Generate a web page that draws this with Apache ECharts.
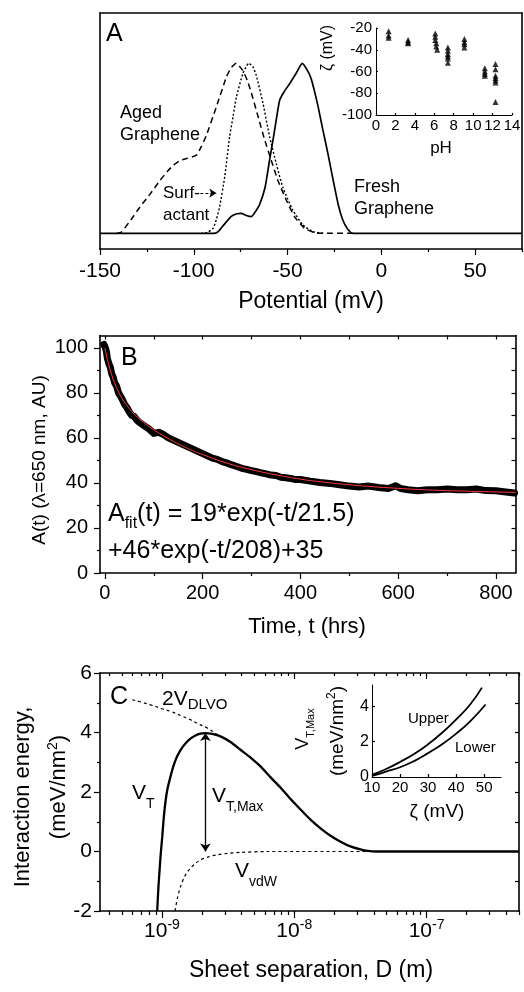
<!DOCTYPE html>
<html><head><meta charset="utf-8">
<script src="https://cdn.jsdelivr.net/npm/echarts@6/dist/echarts.min.js"></script>
<style>html,body{margin:0;padding:0;background:#fff}#c{width:524px;height:992px}</style>
</head><body><div id="c"></div>
<script>
const FONT = '"Liberation Sans", Arial, Helvetica, sans-serif';

// ---------- Panel A : zeta potential distributions ----------
const freshGraphene = [[-150,0],[-89,0],[-87,0.01],[-84,0.05],[-80,0.10],[-77,0.115],[-74.7,0.117],[-72,0.105],[-69.4,0.098],[-67,0.13],[-64.9,0.17],[-62,0.27],[-59.6,0.43],[-57,0.6],[-54.3,0.78],[-52,0.83],[-48.9,0.88],[-45.5,0.94],[-42.2,1.0],[-39.5,0.96],[-37.4,0.91],[-34,0.76],[-31.2,0.61],[-28.5,0.47],[-26,0.33],[-23,0.17],[-20.6,0.08],[-18,0.025],[-15.5,0],[75,0]];
const surfactant = [[-96,0],[-93,0.005],[-89.7,0.03],[-88,0.08],[-86.2,0.157],[-83.5,0.333],[-80.9,0.568],[-79,0.69],[-77.3,0.80],[-73.8,0.94],[-70.6,1.0],[-68.5,0.98],[-66.7,0.93],[-63.1,0.765],[-59.6,0.57],[-56,0.41],[-52.5,0.27],[-47.2,0.137],[-41.8,0.05],[-36.5,0.01],[-30,0]];
const agedGraphene = [[-141,0],[-138.5,0.008],[-133.5,0.08],[-128.7,0.155],[-123,0.235],[-118.1,0.31],[-114,0.365],[-111,0.40],[-107,0.43],[-103.9,0.44],[-98.6,0.46],[-96,0.51],[-93.3,0.576],[-88,0.743],[-82.6,0.92],[-80,0.975],[-77.3,1.0],[-74,0.96],[-71.5,0.9],[-69.4,0.83],[-65.8,0.69],[-62.2,0.55],[-58.7,0.43],[-55.1,0.31],[-50.7,0.196],[-46.3,0.098],[-41,0.03],[-36,0.005],[-33,0],[-15,0]];
const surfArrow = [[-96.5,0.237],[-88,0.237]];
const potentialTicks = [-150,-100,-50,0,50];
const potentialMinor = [-125,-75,-25,25,75];

// inset A : zeta vs pH
const zetaVsPH = [[1.3,-23],[1.3,-27],[1.3,-29],[3.3,-31],[3.3,-33],[3.3,-34],[6.1,-25],[6.1,-28],[6.1,-31],[6.2,-34],[6.2,-37],[6.3,-40],[7.4,-38],[7.4,-41],[7.4,-44],[7.4,-46],[7.4,-48],[7.4,-52],[9.1,-30],[9.1,-33],[9.1,-35],[9.1,-38],[11.2,-57],[11.2,-60],[11.2,-62],[11.2,-64],[12.3,-53],[12.3,-58],[12.3,-64],[12.3,-66],[12.3,-68],[12.3,-70],[12.3,-88]];
const phTicks = [0,2,4,6,8,10,12,14];
const zetaTicks = [-100,-80,-60,-40,-20];

// ---------- Panel B : absorbance decay ----------
const absorbance = [[-2,101.5],[1,100],[3,98.5],[5,95.5],[8,93],[11,91.5],[14,88.5],[17,87],[20,84.5],[24,83],[28,80],[32,78.5],[36,77],[40,75],[45,73.5],[50,71.5],[55,70],[60,69.5],[65,68],[70,67],[80,65.5],[90,64],[100,62],[110,62.5],[120,61.5],[130,60],[140,59],[150,58],[160,57],[170,56],[180,55],[190,54],[200,53],[210,52],[220,51],[230,50.5],[240,49.5],[250,48.8],[260,48],[270,47.3],[280,46.5],[290,46],[300,45.5],[310,45],[320,44.5],[330,44],[340,43.5],[350,43.3],[360,42.5],[370,42.3],[380,42],[390,41.5],[400,41.5],[420,40.8],[440,40.2],[460,39.8],[480,39.2],[500,38.6],[520,38.2],[540,38.6],[560,38],[580,37.5],[595,38.8],[605,37.5],[620,37],[640,36.5],[660,37],[680,37],[700,37.3],[720,37],[740,37],[760,37.3],[780,36.6],[800,36.5],[820,36],[838,35.5]];
const absorbanceFit = [[0,100],[5,95],[10,90.8],[15,87.3],[20,84.3],[30,79.5],[40,75.9],[50,73],[60,70.6],[80,66.8],[100,63.6],[125,60.3],[150,57.4],[175,54.8],[200,52.6],[250,48.8],[300,45.9],[350,43.6],[400,41.7],[450,40.3],[500,39.2],[550,38.3],[600,37.6],[650,37],[700,36.6],[750,36.3],[800,36],[840,35.8]];
const timeTicks = [0,200,400,600,800];
const timeMinor = [100,300,500,700];
const timeTop = [0,100,200,300,400,500,600,700,800];
const absTicks = [0,20,40,60,80,100];
const absMinor = [10,30,50,70,90];
const absRight = [10,20,30,40,50,60,70,80,90,100];

// ---------- Panel C : interaction energy ----------
const vTotal = [[9.2e-10,-2],[9.4e-10,-1.2],[9.6e-10,-0.6],[9.8e-10,-0.05],[1.005e-9,0.5],[1.03e-9,1.1],[1.06e-9,1.63],[1.1e-9,2.1],[1.16e-9,2.52],[1.22e-9,2.87],[1.30e-9,3.19],[1.4e-9,3.45],[1.51e-9,3.64],[1.65e-9,3.8],[1.79e-9,3.9],[1.95e-9,3.96],[2.13e-9,3.98],[2.4e-9,3.95],[2.77e-9,3.87],[3.3e-9,3.68],[3.92e-9,3.42],[4.7e-9,3.15],[5.56e-9,2.86],[6.6e-9,2.5],[7.87e-9,2.15],[9.3e-9,1.78],[1.11e-8,1.42],[1.32e-8,1.08],[1.58e-8,0.78],[1.88e-8,0.53],[2.24e-8,0.33],[2.66e-8,0.17],[3.16e-8,0.07],[3.6e-8,0.02],[4.2e-8,0],[5e-7,0]];
const vDLVO2 = [[5.96e-10,5.1],[7e-10,5.02],[8.2e-10,4.93],[1.0e-9,4.8],[1.16e-9,4.71],[1.4e-9,4.56],[1.64e-9,4.43],[1.9e-9,4.28],[2.2e-9,4.15],[2.69e-9,3.9],[3.3e-9,3.68]];
const vVdW = [[1.253e-9,-2],[1.265e-9,-1.9],[1.32e-9,-1.5],[1.38e-9,-1.18],[1.48e-9,-0.85],[1.6e-9,-0.62],[1.77e-9,-0.42],[1.95e-9,-0.28],[2.25e-9,-0.18],[2.61e-9,-0.11],[3.2e-9,-0.06],[3.92e-9,-0.03],[6.24e-9,0],[4.2e-8,0]];
const vMaxArrow = [[2.13e-9,3.98],[2.13e-9,0]];
const sepTicks = [1e-9,1e-8,1e-7];
const sepMinor = [4e-10,5e-10,6e-10,7e-10,8e-10,9e-10,2e-9,3e-9,4e-9,5e-9,6e-9,7e-9,8e-9,9e-9,2e-8,3e-8,4e-8,5e-8,6e-8,7e-8,8e-8,9e-8,2e-7,3e-7,4e-7,5e-7];
const energyTicks = [-2,0,2,4,6];
const energyMinor = [-1,1,3,5];
const energyRight = [-1,0,1,2,3,4,5];

// inset C : V_T,Max vs zeta
const upperCurve = [[10,0.12],[12,0.25],[15,0.45],[20,0.85],[25,1.3],[30,1.85],[35,2.5],[40,3.25],[45,4.1],[49.2,5.05]];
const lowerCurve = [[10,0.08],[12,0.15],[15,0.3],[20,0.55],[25,0.9],[30,1.35],[35,1.85],[40,2.45],[45,3.15],[50.5,4.1]];
const zetaXTicks = [10,20,30,40,50];
const vmaxTicks = [0,2,4];

function mkAxis(o) {
  return {
    type: o.type || 'value', gridIndex: o.grid, position: o.pos, min: o.min, max: o.max,
    logBase: 10,
    axisLine: {show: !!o.line, onZero: false, lineStyle: {color: '#000', width: o.lineW || 1.6}},
    axisTick: {show: !!o.ticks, customValues: o.ticks || undefined, length: o.tickLen || 5, inside: !!o.inside, lineStyle: {color: '#000', width: 1.2}},
    axisLabel: Object.assign({show: !!o.labels, customValues: o.labels || undefined, color: '#000', fontFamily: FONT}, o.label || {}),
    splitLine: {show: false}, minorTick: {show: false}, minorSplitLine: {show: false},
    axisPointer: {show: false}, silent: true
  };
}

const xAxis = [
  mkAxis({grid:0,pos:'bottom',min:-150,max:75,line:true,ticks:potentialTicks,tickLen:6,labels:potentialTicks,label:{fontSize:21,margin:12}}),
  mkAxis({grid:0,pos:'bottom',min:-150,max:75,ticks:potentialMinor,tickLen:3}),
  mkAxis({grid:0,pos:'top',min:-150,max:75,line:true}),
  mkAxis({grid:1,pos:'bottom',min:0,max:14,line:true,lineW:1,ticks:phTicks,tickLen:2,inside:true,labels:phTicks,label:{fontSize:15,margin:3}}),
  mkAxis({grid:2,pos:'bottom',min:-10,max:840,line:true,ticks:timeTicks,tickLen:6,labels:timeTicks,label:{fontSize:20,margin:10}}),
  mkAxis({grid:2,pos:'bottom',min:-10,max:840,ticks:timeMinor,tickLen:3}),
  mkAxis({grid:2,pos:'top',min:-10,max:840,line:true,ticks:timeTop,tickLen:4,inside:true}),
  mkAxis({grid:3,pos:'bottom',type:'log',min:3.4e-10,max:5e-7,line:true,ticks:sepTicks,tickLen:7,labels:sepTicks,
    label:{margin:7, formatter: v => '{b|10}{s|' + Math.round(Math.log10(v)) + '}',
      rich:{b:{fontSize:21,fontFamily:FONT,color:'#000',lineHeight:26},s:{fontSize:14,fontFamily:FONT,color:'#000',lineHeight:14,verticalAlign:'top'}}}}),
  mkAxis({grid:3,pos:'bottom',type:'log',min:3.4e-10,max:5e-7,ticks:sepMinor,tickLen:4}),
  mkAxis({grid:3,pos:'top',type:'log',min:3.4e-10,max:5e-7,line:true,ticks:sepMinor,tickLen:3,inside:true}),
  mkAxis({grid:3,pos:'top',type:'log',min:3.4e-10,max:5e-7,ticks:sepTicks,tickLen:6,inside:true}),
  mkAxis({grid:4,pos:'bottom',min:10,max:56,line:true,lineW:1,ticks:zetaXTicks,tickLen:3,inside:true,labels:zetaXTicks,label:{fontSize:15,margin:3}})
];

const yAxis = [
  mkAxis({grid:0,pos:'left',min:-0.092,max:1.296,line:true}),
  mkAxis({grid:0,pos:'right',min:-0.092,max:1.296,line:true}),
  mkAxis({grid:1,pos:'left',min:-100,max:-20,line:true,lineW:1,ticks:zetaTicks,tickLen:2,inside:true,labels:zetaTicks,label:{fontSize:15,margin:4}}),
  mkAxis({grid:2,pos:'left',min:0,max:105.5,line:true,ticks:absTicks,tickLen:6,labels:absTicks,label:{fontSize:20,margin:12}}),
  mkAxis({grid:2,pos:'left',min:0,max:105.5,ticks:absMinor,tickLen:3}),
  mkAxis({grid:2,pos:'right',min:0,max:105.5,line:true,ticks:absRight,tickLen:4,inside:true}),
  mkAxis({grid:3,pos:'left',min:-2,max:6,line:true,ticks:energyTicks,tickLen:6,labels:energyTicks,label:{fontSize:21,margin:8}}),
  mkAxis({grid:3,pos:'left',min:-2,max:6,ticks:energyMinor,tickLen:3}),
  mkAxis({grid:3,pos:'right',min:-2,max:6,line:true,ticks:energyRight,tickLen:4,inside:true}),
  mkAxis({grid:4,pos:'left',min:0,max:5.2,line:true,lineW:1,ticks:vmaxTicks,tickLen:3,inside:true,labels:vmaxTicks,label:{fontSize:16,margin:3}})
];

function line(data, xi, yi, style, extra) {
  return Object.assign({type:'line', xAxisIndex:xi, yAxisIndex:yi, data, symbol:'none', silent:true,
    lineStyle: Object.assign({color:'#000', width:1.5}, style), emphasis:{disabled:true}}, extra || {});
}

const series = [
  line(freshGraphene, 0, 0, {width:1.7}, {smooth:0.15, z:3}),
  line(surfactant, 0, 0, {width:1.4, type:[2,2]}, {smooth:0.2, z:2,
    markLine:{silent:true, symbol:['none','arrow'], symbolSize:7, label:{show:false}, emphasis:{disabled:true},
      lineStyle:{color:'#000', width:1.2, type:[3,2]},
      data:[[{coord:surfArrow[0]},{coord:surfArrow[1]}]]}}),
  line(agedGraphene, 0, 0, {width:1.5, type:[6,4]}, {smooth:0.15, z:2}),
  {type:'scatter', xAxisIndex:3, yAxisIndex:2, data:zetaVsPH, symbol:'triangle', symbolSize:6, itemStyle:{color:'#000'}, silent:true},
  line(absorbance, 4, 3, {width:7, cap:'round', join:'round'}, {z:2}),
  line(absorbanceFit, 4, 3, {width:1, color:'#ff3b3b'}, {smooth:true, z:3}),
  line(vDLVO2, 7, 6, {width:1.2, type:[3,3]}, {smooth:true, z:2}),
  line(vVdW, 7, 6, {width:1.2, type:[3,3]}, {smooth:0.3, z:2}),
  line(vTotal, 7, 6, {width:2.3}, {smooth:0.25, z:3,
    markLine:{silent:true, symbol:['arrow','arrow'], symbolSize:8, label:{show:false}, emphasis:{disabled:true},
      lineStyle:{color:'#000', width:1.3, type:'solid'},
      data:[[{coord:vMaxArrow[0]},{coord:vMaxArrow[1]}]]}}),
  line(upperCurve, 11, 9, {width:1.8}, {smooth:true}),
  line(lowerCurve, 11, 9, {width:1.8}, {smooth:true})
];

function T(x, y, text, size, o) {
  o = o || {};
  return {type:'text', x, y, rotation:o.rot || 0, z:100, silent:true,
    style:{text, fontSize:size, fontFamily:FONT, fill:'#000', align:o.align || 'left', verticalAlign:'middle', rich:o.rich}};
}
const R = Math.PI / 2;
const sub = (mSize, sSize, mLH) => ({m:{fontSize:mSize,fontFamily:FONT,fill:'#000',lineHeight:mLH}, s:{fontSize:sSize,fontFamily:FONT,fill:'#000',lineHeight:sSize,verticalAlign:'bottom'}});
const sup = (mSize, sSize, mLH) => ({m:{fontSize:mSize,fontFamily:FONT,fill:'#000',lineHeight:mLH}, s:{fontSize:sSize,fontFamily:FONT,fill:'#000',lineHeight:sSize,verticalAlign:'top'}});

const graphic = [
  T(106, 34, 'A', 25),
  T(120, 113, 'Aged', 18), T(120, 135, 'Graphene', 18),
  T(163, 193, 'Surf-', 17), T(163, 215, 'actant', 17),
  T(354, 187, 'Fresh', 18), T(354, 209, 'Graphene', 18),
  T(311, 302, 'Potential (mV)', 23, {align:'center'}),
  T(328, 48, 'ζ (mV)', 16, {align:'center', rot:R}),
  T(441, 148, 'pH', 17, {align:'center'}),
  T(121, 358, 'B', 25),
  T(108, 514, '{m|A}{s|fit}{m|(t) = 19*exp(-t/21.5)}', 25, {rich:sub(25, 16, 36)}),
  T(108, 551, '+46*exp(-t/208)+35', 25),
  T(40, 460, 'A(t) (λ=650 nm, AU)', 19, {align:'center', rot:R}),
  T(307, 627, 'Time, t (hrs)', 22, {align:'center'}),
  T(110, 697, 'C', 25),
  T(162, 699, '{m|2V}{s|DLVO}', 21, {rich:sub(21, 15, 26)}),
  T(132, 793.5, '{m|V}{s|T}', 21, {rich:sub(21, 14, 36)}),
  T(212, 796.5, '{m|V}{s|T,Max}', 21, {rich:sub(21, 14, 36)}),
  T(235, 871.5, '{m|V}{s|vdW}', 21, {rich:sub(21, 14, 36)}),
  T(408, 719, 'Upper', 15), T(455, 748, 'Lower', 15),
  T(437, 812, 'ζ (mV)', 19, {align:'center'}),
  T(303, 729, '{m|V}{s|T,Max}', 18, {align:'center', rot:R, rich:sub(18, 11, 26)}),
  T(337.5, 731, '{m|(meV/nm}{s|2}{m|)}', 19, {align:'center', rot:R, rich:sup(19, 12, 24)}),
  T(22.5, 797, 'Interaction energy,', 22, {align:'center', rot:R}),
  T(59, 787, '{m|(meV/nm}{s|2}{m|)}', 22, {align:'center', rot:R, rich:sup(22, 14, 26)}),
  T(311, 971, 'Sheet separation, D (m)', 23, {align:'center'})
];

const chart = echarts.init(document.getElementById('c'), null, {width:524, height:992, renderer:'canvas'});
chart.setOption({
  animation: false,
  backgroundColor: '#fff',
  textStyle: {fontFamily: FONT},
  grid: [
    {left:100, top:13, width:422, height:236},
    {left:376, top:28, width:136, height:87},
    {left:100, top:335.5, width:415.5, height:237.5},
    {left:100, top:673, width:419, height:238},
    {left:372, top:685, width:129, height:92}
  ],
  xAxis, yAxis, series, graphic
});
</script>
</body></html>
